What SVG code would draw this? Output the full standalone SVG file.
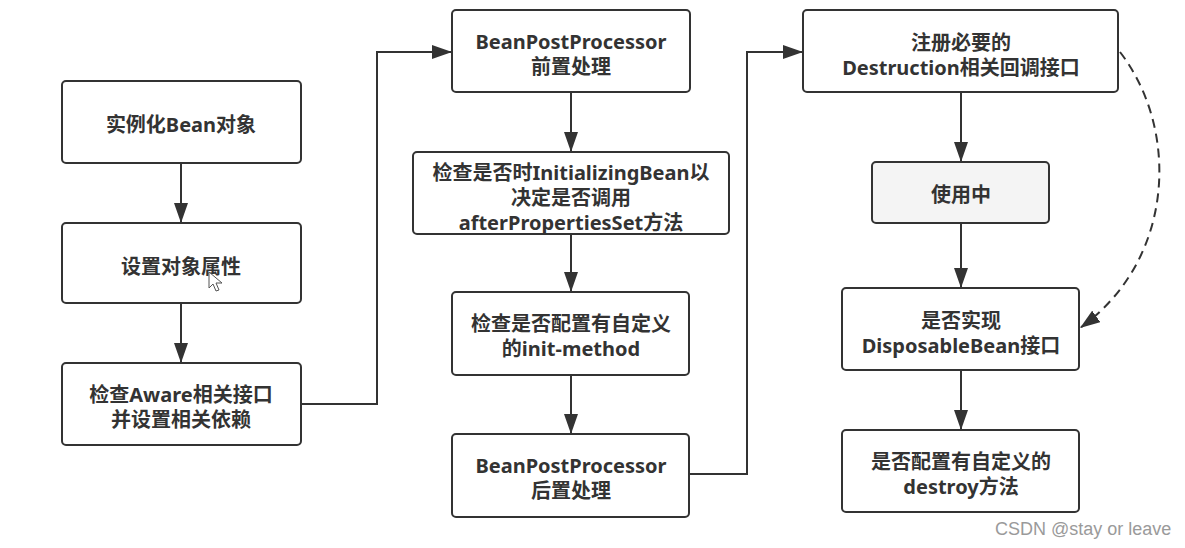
<svg xmlns="http://www.w3.org/2000/svg" width="1185" height="548" viewBox="0 0 1185 548">
<style>
.box{fill:#fff;stroke:#333;stroke-width:2}
.gray{fill:#f4f4f4}
.t{font-family:"Noto Sans","Noto Sans CJK SC",sans-serif;font-weight:bold;font-size:20px;fill:#333;text-anchor:middle}
.c{fill:none;stroke:#333;stroke-width:2}
.d{fill:none;stroke:#333;stroke-width:2;stroke-dasharray:9 6}
.wm{font-family:"Liberation Sans",Arial,sans-serif;font-size:18px;fill:#9a9a9a}
</style>
<defs>
<marker id="ah" markerUnits="userSpaceOnUse" markerWidth="20" markerHeight="14" refX="20" refY="7" orient="auto">
<path d="M0,0 L20,7 L0,14 z" fill="#333"/>
</marker>
</defs>
<rect width="1185" height="548" fill="#fff"/>
<g id="connectors">
<line class="c" x1="181" y1="163" x2="181" y2="223" marker-end="url(#ah)"/>
<line class="c" x1="181" y1="303" x2="181" y2="363" marker-end="url(#ah)"/>
<polyline class="c" points="301,404 377,404 377,52 452,52" marker-end="url(#ah)"/>
<line class="c" x1="571" y1="92" x2="571" y2="152" marker-end="url(#ah)"/>
<line class="c" x1="571" y1="234" x2="571" y2="292" marker-end="url(#ah)"/>
<line class="c" x1="571" y1="375" x2="571" y2="434" marker-end="url(#ah)"/>
<polyline class="c" points="689,474 747,474 747,52 803,52" marker-end="url(#ah)"/>
<line class="c" x1="961" y1="92" x2="961" y2="162" marker-end="url(#ah)"/>
<line class="c" x1="961" y1="223" x2="961" y2="288" marker-end="url(#ah)"/>
<line class="c" x1="961" y1="370" x2="961" y2="430" marker-end="url(#ah)"/>
<path class="d" d="M1120,52 C1180,130 1175,260 1080,328" marker-end="url(#ah)"/>
</g>
<g id="n1"><rect class="box" x="62" y="81" width="239" height="82" rx="4"/><text class="t" x="181" y="132">实例化Bean对象</text></g>
<g id="n2"><rect class="box" x="62" y="223" width="239" height="80" rx="4"/><text class="t" x="181" y="274">设置对象属性</text></g>
<g id="n3"><rect class="box" x="62" y="363" width="239" height="82" rx="4"/><text class="t" x="181" y="402">检查Aware相关接口</text><text class="t" x="181" y="427">并设置相关依赖</text></g>
<g id="n4"><rect class="box" x="452" y="10" width="238" height="82" rx="4"/><text class="t" x="571" y="49">BeanPostProcessor</text><text class="t" x="571" y="74">前置处理</text></g>
<g id="n5"><rect class="box" x="413" y="152" width="316" height="82" rx="4"/><text class="t" x="571" y="180">检查是否时InitializingBean以</text><text class="t" x="571" y="205">决定是否调用</text><text class="t" x="571" y="230">afterPropertiesSet方法</text></g>
<g id="n6"><rect class="box" x="452" y="292" width="237" height="83" rx="4"/><text class="t" x="571" y="331">检查是否配置有自定义</text><text class="t" x="571" y="356">的init-method</text></g>
<g id="n7"><rect class="box" x="452" y="434" width="237" height="83" rx="4"/><text class="t" x="571" y="473">BeanPostProcessor</text><text class="t" x="571" y="498">后置处理</text></g>
<g id="n8"><rect class="box" x="803" y="10" width="315" height="82" rx="4"/><text class="t" x="961" y="50">注册必要的</text><text class="t" x="961" y="75">Destruction相关回调接口</text></g>
<g id="n9"><rect class="box gray" x="872" y="162" width="177" height="61" rx="4"/><text class="t" x="961" y="202">使用中</text></g>
<g id="n10"><rect class="box" x="842" y="288" width="237" height="82" rx="4"/><text class="t" x="961" y="328">是否实现</text><text class="t" x="961" y="353">DisposableBean接口</text></g>
<g id="n11"><rect class="box" x="842" y="430" width="237" height="82" rx="4"/><text class="t" x="961" y="469">是否配置有自定义的</text><text class="t" x="961" y="494">destroy方法</text></g>
<g id="cursor"><path d="M209,272 L209,288 L213,284 L216,291 L219,290 L216,283 L222,283 z" fill="#fff" stroke="#555" stroke-width="1"/></g>
<text class="wm" x="995" y="535">CSDN @stay or leave</text>
</svg>
